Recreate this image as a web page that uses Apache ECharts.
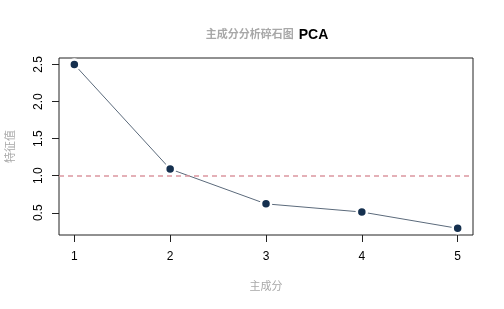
<!DOCTYPE html>
<html>
<head>
<meta charset="utf-8">
<script src="https://cdn.jsdelivr.net/npm/echarts@6/dist/echarts.min.js"></script>
<style>
    html, body { margin: 0; padding: 0; background: #fff; }
    #chart { width: 504px; height: 309px; }
</style>
</head>
<body>
<div id="chart"></div>
<script>
// 碎石图数据
var components = [1, 2, 3, 4, 5];
var eigenValues = [2.50, 1.09, 0.62, 0.51, 0.29];
var xTicks = [1, 2, 3, 4, 5];
var yTicks = [0.5, 1.0, 1.5, 2.0, 2.5];
var cutoff = 1;

var font = 'Liberation Sans, Arial, Noto Sans CJK SC, sans-serif';
var points = components.map(function (c, i) { return [c, eigenValues[i]]; });

var myChart = echarts.init(document.getElementById('chart'));
var option = {
    animation: false,
    title: {
        text: '{a|主成分分析碎石图} {b|PCA}',
        left: 262,
        textAlign: 'center',
        top: 21,
        textStyle: {
            rich: {
                a: { fontSize: 11, color: '#a8a8a8', fontFamily: font },
                b: { fontSize: 14, fontWeight: 'bold', color: '#000', fontFamily: font }
            }
        }
    },
    grid: {
        left: 59, right: 31, top: 58, bottom: 74,
        outerBoundsMode: 'none',
        containLabel: false,
        show: true,
        borderColor: '#222',
        borderWidth: 1,
        backgroundColor: 'transparent'
    },
    xAxis: {
        type: 'value',
        min: 0.84,
        max: 5.16,
        name: '主成分',
        nameLocation: 'middle',
        nameGap: 46,
        nameTextStyle: { fontSize: 11, color: '#a8a8a8', fontFamily: font },
        axisLine: { show: false },
        splitLine: { show: false },
        axisTick: { show: true, length: 7, customValues: xTicks, lineStyle: { color: '#222' } },
        axisLabel: {
            customValues: xTicks,
            fontSize: 12, color: '#000', fontFamily: font, margin: 16
        }
    },
    yAxis: {
        type: 'value',
        min: 0.2,
        max: 2.588,
        name: '特征值',
        nameLocation: 'middle',
        nameRotate: 90,
        nameGap: 43,
        nameTextStyle: { fontSize: 11, color: '#a8a8a8', fontFamily: font },
        axisLine: { show: false },
        splitLine: { show: false },
        axisTick: { show: true, length: 7, customValues: yTicks, lineStyle: { color: '#222' } },
        axisLabel: {
            customValues: yTicks,
            rotate: 90,
            formatter: function (v) { return v.toFixed(1); },
            fontSize: 12, color: '#000', fontFamily: font, margin: 14
        }
    },
    series: [{
        type: 'line',
        data: points,
        symbol: 'circle',
        symbolSize: 10,
        lineStyle: { color: '#5b6a7b', width: 1 },
        itemStyle: { color: '#15304f', borderColor: '#fff', borderWidth: 2.5 },
        z: 3,
        markLine: {
            silent: true,
            symbol: 'none',
            label: { show: false },
            lineStyle: { color: '#dc96a0', type: [5, 4], width: 1.5 },
            data: [{ yAxis: cutoff }]
        }
    }]
};
myChart.setOption(option);
</script>
</body>
</html>
